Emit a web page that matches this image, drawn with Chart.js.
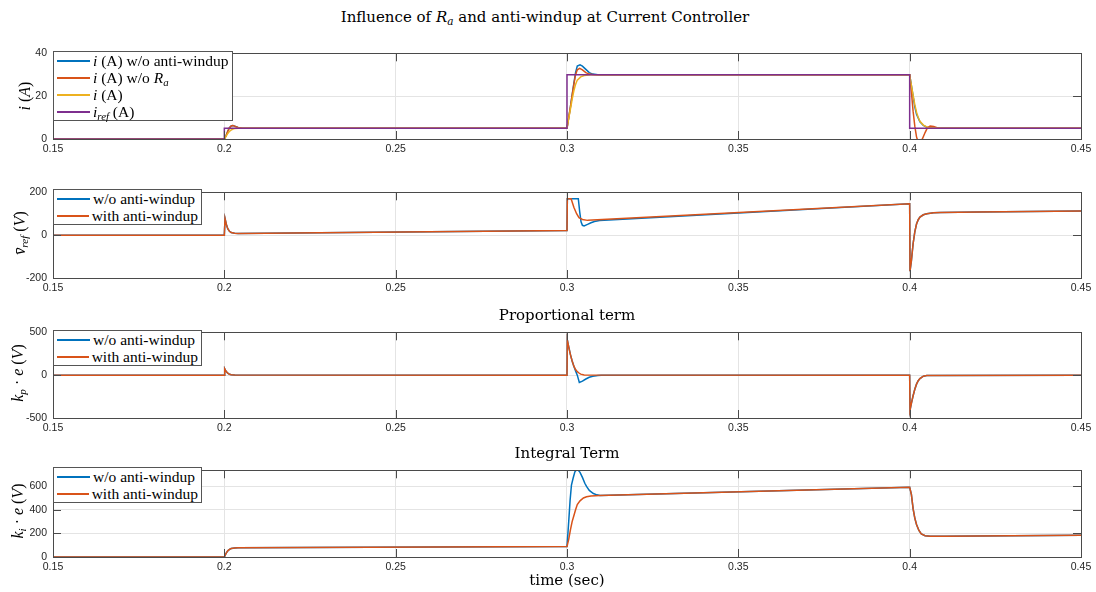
<!DOCTYPE html>
<html>
<head>
<meta charset="utf-8">
<script src="https://cdn.jsdelivr.net/npm/chart.js@4.4.0/dist/chart.umd.min.js"></script>
<style>
  html, body { margin: 0; padding: 0; background: #fff; }
  #fig { position: relative; width: 1096px; height: 592px; background: #fff; overflow: hidden; }
  #fig canvas { position: absolute; left: 0; }
  .serif { position: absolute; font-family: "DejaVu Serif", "Liberation Serif", serif; color: #000; white-space: nowrap; }
  .center { transform: translate(-50%, -50%); }
  .ylab { transform: translate(-50%, -50%) rotate(-90deg); font-size: 16px; font-family: "Liberation Serif", serif; }
  .legend { position: absolute; background: #fff; border: 1px solid #555; font-family: "Liberation Serif", "DejaVu Serif", serif; font-size: 15.5px; padding: 0 3px 0 3px; box-sizing: border-box; }
  .legend .row { height: 17px; line-height: 17px; display: flex; align-items: center; white-space: nowrap; }
  .legend .swatch { display: inline-block; width: 33px; height: 2px; margin-right: 3px; }
  sub { font-size: 70%; vertical-align: -3px; line-height: 0; }
</style>
</head>
<body>
<div id="fig"></div>
<script>
// couleurs MATLAB par défaut
const cBlue = '#0072BD';
const cOrange = '#D95319';
const cYellow = '#EDB120';
const cPurple = '#7E2F8E';

// axe du temps commun
const xTicks = [0.15, 0.2, 0.25, 0.3, 0.35, 0.4, 0.45];

// --- courant ---
const tRef = [0.15, 0.2, 0.2, 0.3, 0.3, 0.4, 0.4, 0.45];
const iRef = [0, 0, 5, 5, 30, 30, 5, 5];

const tNoAw = [0.15, 0.2, 0.2005, 0.201, 0.2015, 0.202, 0.2025, 0.203, 0.204, 0.205, 0.3, 0.3005, 0.301, 0.3015, 0.302, 0.3025, 0.303, 0.3038, 0.3045, 0.3055, 0.3065, 0.3075, 0.309, 0.4, 0.4005, 0.401, 0.4015, 0.402, 0.403, 0.404, 0.405, 0.406, 0.45];
const iNoAw = [0, 0, 1.5, 3.6, 5.3, 6.1, 6.3, 6.0, 5.4, 5.1, 5, 10, 15, 20.5, 26, 31, 34, 34.6, 34, 32.5, 31, 30.3, 30, 30, 25, 20, 15, 11.5, 8, 6.3, 5.5, 5.1, 5];

const tNoRa = [0.15, 0.2, 0.2005, 0.201, 0.2015, 0.202, 0.2025, 0.203, 0.204, 0.205, 0.206, 0.3, 0.3005, 0.301, 0.3015, 0.302, 0.3025, 0.303, 0.3037, 0.3045, 0.3055, 0.3065, 0.308, 0.4, 0.4005, 0.401, 0.4015, 0.402, 0.4025, 0.403, 0.4037, 0.4045, 0.4052, 0.406, 0.407, 0.408, 0.409, 0.45];
const iNoRa = [0, 0, 1.5, 3.6, 5.3, 6.1, 6.3, 6.0, 5.4, 5.1, 5, 5, 10, 15, 20.5, 25.5, 30, 32.3, 33, 32.3, 31, 30.3, 30, 30, 22, 13, 6, 1, -1.5, -1.8, 0, 3, 5.3, 6, 5.8, 5.3, 5, 5];

const tMeas = [0.15, 0.2, 0.2005, 0.201, 0.2015, 0.202, 0.2025, 0.203, 0.204, 0.3, 0.3005, 0.301, 0.3015, 0.302, 0.3025, 0.303, 0.304, 0.305, 0.307, 0.4, 0.4005, 0.401, 0.4015, 0.402, 0.4025, 0.403, 0.404, 0.405, 0.406, 0.408, 0.45];
const iMeas = [0, 0, 1.2, 2.6, 3.6, 4.2, 4.6, 4.85, 5, 5, 9.5, 14, 18.5, 22.5, 25.5, 27.5, 29, 29.6, 30, 30, 25, 20.5, 16, 12.5, 10, 8.3, 6.5, 5.6, 5.2, 5, 5];

// --- tension de référence ---
const tVNoAw = [0.15, 0.2, 0.2002, 0.2006, 0.201, 0.2015, 0.202, 0.203, 0.204, 0.3, 0.3001, 0.3033, 0.3037, 0.3041, 0.3045, 0.305, 0.306, 0.307, 0.308, 0.3095, 0.4, 0.4001, 0.4005, 0.401, 0.4015, 0.402, 0.4025, 0.403, 0.404, 0.405, 0.407, 0.409, 0.42, 0.45];
const vNoAw = [0, 0, 78, 50, 30, 18, 12, 9, 8, 22, 170, 170, 110, 62, 46, 43, 50, 58, 64, 68, 146, -168, -120, -40, 15, 52, 72, 84, 95, 100, 104, 106, 108, 113];

const tVAw = [0.15, 0.2, 0.2002, 0.2006, 0.201, 0.2015, 0.202, 0.203, 0.204, 0.3, 0.3001, 0.3012, 0.302, 0.3028, 0.3035, 0.3045, 0.306, 0.4, 0.4001, 0.4005, 0.401, 0.4015, 0.402, 0.4025, 0.403, 0.404, 0.405, 0.407, 0.409, 0.42, 0.45];
const vAw = [0, 0, 78, 50, 30, 18, 12, 9, 8, 22, 170, 170, 130, 100, 82, 73, 69, 146, -168, -120, -40, 15, 52, 72, 84, 95, 100, 104, 106, 108, 113];

// --- terme proportionnel ---
const tKpNoAw = [0.15, 0.2, 0.2001, 0.2005, 0.201, 0.2015, 0.202, 0.203, 0.3, 0.3001, 0.3005, 0.301, 0.3015, 0.302, 0.3025, 0.303, 0.3036, 0.3045, 0.3055, 0.3065, 0.3075, 0.309, 0.31, 0.4, 0.4001, 0.4005, 0.401, 0.4015, 0.402, 0.4025, 0.403, 0.4035, 0.404, 0.405, 0.45];
const kpNoAw = [0, 0, 75, 45, 22, 10, 4, 0.5, 0, 410, 330, 240, 165, 105, 50, 0, -85, -70, -45, -25, -12, -3, 0, 0, -410, -330, -240, -165, -105, -65, -40, -25, -12, -3, 0];

const tKpAw = [0.15, 0.2, 0.2001, 0.2005, 0.201, 0.2015, 0.202, 0.203, 0.3, 0.3001, 0.3005, 0.301, 0.3015, 0.302, 0.3025, 0.303, 0.3035, 0.304, 0.305, 0.4, 0.4001, 0.4005, 0.401, 0.4015, 0.402, 0.4025, 0.403, 0.4035, 0.404, 0.405, 0.45];
const kpAw = [0, 0, 75, 45, 22, 10, 4, 0.5, 0, 410, 330, 240, 165, 105, 65, 40, 25, 12, 3, 0, -410, -330, -240, -165, -105, -65, -40, -25, -12, -3, 0];

// --- terme intégral ---
const tKiNoAw = [0.15, 0.2, 0.2005, 0.201, 0.2015, 0.202, 0.203, 0.204, 0.3, 0.3005, 0.3009, 0.3013, 0.3018, 0.3023, 0.3028, 0.3033, 0.3038, 0.3045, 0.3052, 0.3057, 0.3065, 0.3077, 0.3087, 0.3096, 0.4, 0.4005, 0.401, 0.4015, 0.402, 0.4027, 0.4034, 0.4045, 0.406, 0.41, 0.45];
const kiNoAw = [0, 0, 30, 52, 65, 72, 77, 79, 90, 300, 480, 610, 670, 722, 740, 735, 718, 675, 625, 598, 565, 538, 527, 521, 592, 530, 410, 330, 275, 225, 195, 180, 176, 175, 185];

const tKiAw = [0.15, 0.2, 0.2005, 0.201, 0.2015, 0.202, 0.203, 0.204, 0.3, 0.3005, 0.301, 0.3015, 0.302, 0.3025, 0.303, 0.3038, 0.3048, 0.3057, 0.307, 0.3096, 0.4, 0.4005, 0.401, 0.4015, 0.402, 0.4027, 0.4034, 0.4045, 0.406, 0.41, 0.45];
const kiAw = [0, 0, 30, 52, 65, 72, 77, 79, 90, 150, 230, 300, 350, 400, 445, 476, 500, 511, 518, 521, 592, 530, 410, 330, 275, 225, 195, 180, 176, 175, 185];

function zip(ts, ys) {
    return ts.map((t, k) => ({ x: t, y: ys[k] }));
}

function serie(label, color, ts, ys) {
    return { label: label, data: zip(ts, ys), borderColor: color, backgroundColor: color };
}

// cadre + graduations vers l'intérieur, façon MATLAB
const boxPlugin = {
    id: 'matlabBox',
    afterDatasetsDraw(chart) {
        const { ctx, chartArea: a, scales } = chart;
        const len = 8;
        ctx.save();
        ctx.strokeStyle = '#4a4a4a';
        ctx.lineWidth = 1;
        ctx.beginPath();
        scales.x.ticks.forEach(tk => {
            const px = Math.round(scales.x.getPixelForValue(tk.value)) + 0.5;
            ctx.moveTo(px, a.bottom); ctx.lineTo(px, a.bottom - len);
            ctx.moveTo(px, a.top); ctx.lineTo(px, a.top + len);
        });
        scales.y.ticks.forEach(tk => {
            const py = Math.round(scales.y.getPixelForValue(tk.value)) + 0.5;
            ctx.moveTo(a.left, py); ctx.lineTo(a.left + len, py);
            ctx.moveTo(a.right, py); ctx.lineTo(a.right - len, py);
        });
        ctx.stroke();
        ctx.strokeRect(Math.round(a.left) + 0.5, Math.round(a.top) + 0.5, Math.round(a.right - a.left), Math.round(a.bottom - a.top));
        ctx.restore();
    }
};

const fig = document.getElementById('fig');

function addText(html, x, y, size, cls) {
    const d = document.createElement('div');
    d.className = 'serif ' + (cls || 'center');
    d.style.left = x + 'px';
    d.style.top = y + 'px';
    if (size) d.style.fontSize = size + 'px';
    d.innerHTML = html;
    fig.appendChild(d);
}

function addLegend(x, y, w, items) {
    const box = document.createElement('div');
    box.className = 'legend';
    box.style.left = x + 'px';
    box.style.top = y + 'px';
    box.style.width = w + 'px';
    items.forEach(it => {
        const r = document.createElement('div');
        r.className = 'row';
        r.innerHTML = '<span class="swatch" style="background:' + it.color + '"></span><span>' + it.html + '</span>';
        box.appendChild(r);
    });
    fig.appendChild(box);
}

function makeAxes(top, plotH, yMin, yMax, yTicks, datasets) {
    const padTop = 8, xAxisH = 24;
    const canvas = document.createElement('canvas');
    canvas.width = 1096;
    canvas.height = padTop + plotH + xAxisH;
    canvas.style.top = (top - padTop) + 'px';
    fig.appendChild(canvas);
    // la dernière série est tracée par-dessus, comme dans MATLAB
    datasets.forEach((ds, k) => {
        ds.borderWidth = 1.5;
        ds.pointRadius = 0;
        ds.tension = 0;
        ds.order = datasets.length - k;
    });
    new Chart(canvas.getContext('2d'), {
        type: 'line',
        data: { datasets: datasets },
        options: {
            responsive: false,
            animation: false,
            devicePixelRatio: 1,
            layout: { padding: { left: 0, right: 15, top: padTop, bottom: 0 } },
            plugins: { legend: { display: false }, tooltip: { enabled: false } },
            scales: {
                x: {
                    type: 'linear', min: 0.15, max: 0.45,
                    afterBuildTicks: s => { s.ticks = xTicks.map(v => ({ value: v })); },
                    afterFit: s => { s.height = xAxisH; },
                    ticks: {
                        padding: 4, maxRotation: 0, color: '#262626',
                        font: { family: 'Liberation Sans, Arial, sans-serif', size: 10.5 },
                        callback: v => String(Number(v.toFixed(2)))
                    },
                    grid: { color: '#e4e4e4', drawTicks: false },
                    border: { display: false }
                },
                y: {
                    type: 'linear', min: yMin, max: yMax,
                    afterBuildTicks: s => { s.ticks = yTicks.map(v => ({ value: v })); },
                    afterFit: s => { s.width = 53; },
                    ticks: {
                        padding: 6, color: '#262626',
                        font: { family: 'Liberation Sans, Arial, sans-serif', size: 10.5 },
                        callback: v => String(v)
                    },
                    grid: { color: '#e4e4e4', drawTicks: false },
                    border: { display: false }
                }
            }
        },
        plugins: [boxPlugin]
    });
}

// 1. courant
makeAxes(49, 90, 0, 40, [0, 20, 40], [
    serie('i (A) w/o anti-windup', cBlue, tNoAw, iNoAw),
    serie('i (A) w/o Ra', cOrange, tNoRa, iNoRa),
    serie('i (A)', cYellow, tMeas, iMeas),
    serie('iref (A)', cPurple, tRef, iRef)
]);
// 2. tension de référence
makeAxes(188, 90, -200, 200, [-200, 0, 200], [
    serie('w/o anti-windup', cBlue, tVNoAw, vNoAw),
    serie('with anti-windup', cOrange, tVAw, vAw)
]);
// 3. terme proportionnel
makeAxes(328, 90, -500, 500, [-500, 0, 500], [
    serie('w/o anti-windup', cBlue, tKpNoAw, kpNoAw),
    serie('with anti-windup', cOrange, tKpAw, kpAw)
]);
// 4. terme intégral
makeAxes(466, 91, 0, 735, [0, 200, 400, 600], [
    serie('w/o anti-windup', cBlue, tKiNoAw, kiNoAw),
    serie('with anti-windup', cOrange, tKiAw, kiAw)
]);

// titres et étiquettes
addText('Influence of <i>R<sub>a</sub></i> and anti-windup at Current Controller', 545, 17, 15);
addText('Proportional term', 567, 315, 15);
addText('Integral Term', 567, 453, 15);
addText('time (sec)', 567, 580, 15);

addText('<i>i</i> (<i>A</i>)', 25, 96, null, 'ylab');
addText('<i>v&#772;</i><sub><i>ref</i></sub> (<i>V</i>)', 20, 233, null, 'ylab');
addText('<i>k<sub>p</sub></i> &middot; <i>e</i> (<i>V</i>)', 18, 373, null, 'ylab');
addText('<i>k<sub>i</sub></i> &middot; <i>e</i> (<i>V</i>)', 18, 511, null, 'ylab');

const awItems = [
    { color: cBlue, html: 'w/o anti-windup' },
    { color: cOrange, html: 'with anti-windup' }
];
addLegend(53, 51, 180, [
    { color: cBlue, html: '<i>i</i> (A) w/o anti-windup' },
    { color: cOrange, html: '<i>i</i> (A) w/o <i>R<sub>a</sub></i>' },
    { color: cYellow, html: '<i>i</i> (A)' },
    { color: cPurple, html: '<i>i<sub>ref</sub></i> (A)' }
]);
addLegend(53, 189, 149, awItems);
addLegend(53, 330, 149, awItems);
addLegend(53, 467, 149, awItems);
</script>
</body>
</html>
